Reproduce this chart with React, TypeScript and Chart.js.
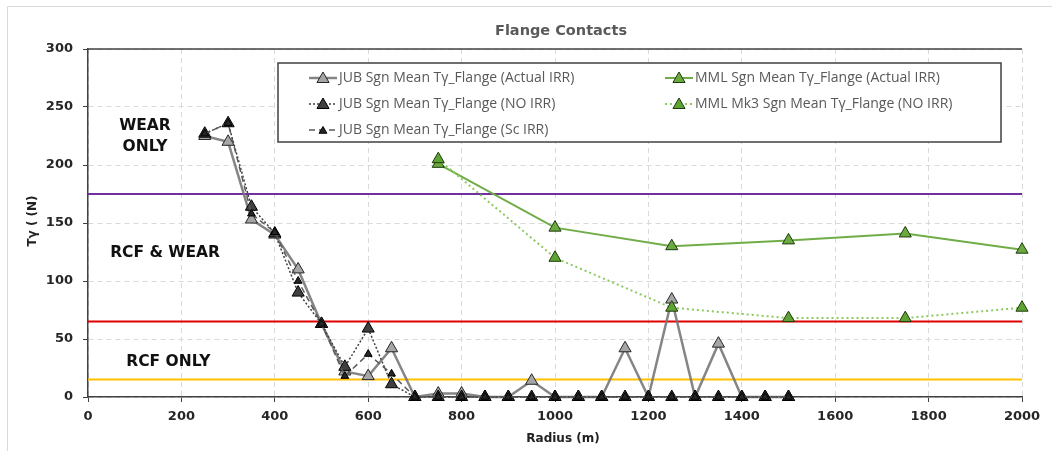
import React, { useEffect, useRef } from 'react';
import { Chart, registerables } from 'chart.js';

Chart.register(...registerables);

// ---------- data ----------
const jubRadius = [250, 300, 350, 400, 450, 500, 550, 600, 650, 700, 750, 800, 850, 900, 950, 1000, 1050, 1100, 1150, 1200, 1250, 1300, 1350, 1400, 1450, 1500];
const jubActualIrr = [225, 220, 153, 140, 110, 63, 22, 18, 42, 0, 3, 3, 0, 0, 14, 0, 0, 0, 42, 0, 84, 0, 46, 0, 0, 0];
const jubNoIrr = [227, 236, 164, 141, 90, 63, 26, 59, 11, 0, 0, 0, 0, 0, 0, 0, 0, 0, 0, 0, 0, 0, 0, 0, 0, 0];
const jubScIrr = [227, 236, 158, 142, 100, 63, 18, 37, 20, 0, 0, 0, 0, 0, 0, 0, 0, 0, 0, 0, 0, 0, 0, 0, 0, 0];

const mmlRadius = [750, 1000, 1250, 1500, 1750, 2000];
const mmlActualIrr = [201, 146, 130, 135, 141, 127];
const mmlMk3NoIrr = [205, 120, 77, 68, 68, 77];

const thresholdValues = [175, 65, 15];
const thresholdColors = ['#7030A0', '#E00000', '#FFC000'];

const seriesLabels = [
  'JUB Sgn Mean Tγ_Flange (Actual IRR)',
  'JUB Sgn Mean Tγ_Flange (NO IRR)',
  'JUB Sgn Mean Tγ_Flange (Sc IRR)',
  'MML Sgn Mean Tγ_Flange (Actual IRR)',
  'MML Mk3 Sgn Mean Tγ_Flange (NO IRR)',
];

const titleText = 'Flange Contacts';
const xTitle = 'Radius (m)';
const yTitle = 'Tγ ( (N)';
const xMin = 0, xMax = 2000, xStep = 200;
const yMin = 0, yMax = 300, yStep = 50;

const toPts = (xs: number[], ys: number[]) => xs.map((x, i) => ({ x, y: ys[i] }));

const TICK_FONT = '"DejaVu Sans", sans-serif';

function drawTri(ctx: CanvasRenderingContext2D, x: number, y: number, r: number, fill: string, stroke: string, lw: number) {
  const s = Math.sin(Math.PI / 3);
  ctx.beginPath();
  ctx.moveTo(x, y - r);
  ctx.lineTo(x + r * s, y + r / 2);
  ctx.lineTo(x - r * s, y + r / 2);
  ctx.closePath();
  ctx.fillStyle = fill;
  ctx.fill();
  ctx.lineWidth = lw;
  ctx.strokeStyle = stroke;
  ctx.stroke();
}

const decorPlugin = {
  id: 'decor',
  beforeDraw(chart: any) {
    const { ctx, width, height } = chart;
    ctx.save();
    ctx.fillStyle = '#ffffff';
    ctx.fillRect(0, 0, width, height);
    ctx.strokeStyle = '#D9D9D9';
    ctx.lineWidth = 1;
    ctx.beginPath();
    ctx.moveTo(7.5, height);
    ctx.lineTo(7.5, 6.5);
    ctx.lineTo(width, 6.5);
    ctx.stroke();
    ctx.restore();
  },
  afterDraw(chart: any) {
    const { ctx, chartArea: a } = chart;
    const xs = chart.scales.x;
    const ys = chart.scales.y;
    ctx.save();
    // top border of plot
    ctx.strokeStyle = '#404040';
    ctx.lineWidth = 1.5;
    ctx.beginPath();
    ctx.moveTo(a.left, a.top);
    ctx.lineTo(a.right, a.top);
    ctx.stroke();

    // title
    ctx.fillStyle = '#595959';
    ctx.font = 'bold 14.5px "DejaVu Sans", sans-serif';
    ctx.textAlign = 'center';
    ctx.textBaseline = 'middle';
    ctx.fillText(titleText, 561, 31);

    // axis titles
    ctx.fillStyle = '#222';
    ctx.font = 'bold 12px "DejaVu Sans", sans-serif';
    ctx.fillText(xTitle, 563, 439);
    ctx.save();
    ctx.translate(33, 221);
    ctx.rotate(-Math.PI / 2);
    ctx.font = 'bold 12px "DejaVu Sans", sans-serif';
    ctx.fillText(yTitle, 0, 0);
    ctx.restore();

    // zone labels
    ctx.fillStyle = '#111';
    ctx.font = 'bold 15.5px "DejaVu Sans", sans-serif';
    ctx.fillText('WEAR', xs.getPixelForValue(122), ys.getPixelForValue(234));
    ctx.fillText('ONLY', xs.getPixelForValue(122), ys.getPixelForValue(215.5));
    ctx.fillText('RCF & WEAR', xs.getPixelForValue(165), ys.getPixelForValue(124));
    ctx.fillText('RCF ONLY', xs.getPixelForValue(172), ys.getPixelForValue(30));

    // legend
    const bx = 278, by = 63, bw = 723, bh = 79;
    ctx.fillStyle = '#ffffff';
    ctx.fillRect(bx, by, bw, bh);
    ctx.strokeStyle = '#404040';
    ctx.lineWidth = 1.5;
    ctx.strokeRect(bx, by, bw, bh);

    const entries = [
      { ds: 3, x: 309, y: 78 },
      { ds: 4, x: 309, y: 104 },
      { ds: 5, x: 309, y: 130 },
      { ds: 6, x: 665, y: 78 },
      { ds: 7, x: 665, y: 104 },
    ];
    entries.forEach((e, i) => {
      const d: any = chart.data.datasets[e.ds];
      ctx.save();
      ctx.strokeStyle = d.borderColor;
      ctx.lineWidth = d.borderWidth;
      ctx.setLineDash(d.borderDash || []);
      ctx.beginPath();
      ctx.moveTo(e.x, e.y);
      ctx.lineTo(e.x + 28, e.y);
      ctx.stroke();
      ctx.setLineDash([]);
      drawTri(ctx, e.x + 14, e.y + 1, d.pointRadius, d.pointBackgroundColor, d.pointBorderColor, 1);
      ctx.restore();
      ctx.fillStyle = '#595959';
      ctx.font = '14px "Open Sans", sans-serif';
      ctx.textAlign = 'left';
      ctx.textBaseline = 'middle';
      ctx.fillText(seriesLabels[i], e.x + 30, e.y);
    });
    ctx.restore();
  },
};

export default function App() {
  const ref = useRef<HTMLCanvasElement | null>(null);
  useEffect(() => {
    if (!ref.current) return;
    const thresholdSets = thresholdValues.map((v, i) => ({
      label: 'threshold' + i,
      data: [{ x: xMin, y: v }, { x: xMax, y: v }],
      showLine: true,
      borderColor: thresholdColors[i],
      backgroundColor: thresholdColors[i],
      borderWidth: 2,
      pointRadius: 0,
      order: 20,
    }));
    const chart = new Chart(ref.current, {
      type: 'scatter',
      data: {
        datasets: [
          ...thresholdSets,
          {
            label: seriesLabels[0],
            data: toPts(jubRadius, jubActualIrr),
            showLine: true,
            borderColor: 'rgba(120,120,120,0.9)',
            borderWidth: 2.5,
            pointStyle: 'triangle',
            pointRadius: 7,
            pointBackgroundColor: '#A6A6A6',
            pointBorderColor: '#262626',
            pointBorderWidth: 1,
            clip: false,
            order: 5,
          },
          {
            label: seriesLabels[1],
            data: toPts(jubRadius, jubNoIrr),
            showLine: true,
            borderColor: '#404040',
            borderWidth: 1.5,
            borderDash: [2, 2],
            pointStyle: 'triangle',
            pointRadius: 7,
            pointBackgroundColor: '#404040',
            pointBorderColor: '#000000',
            pointBorderWidth: 1,
            clip: false,
            order: 4,
          },
          {
            label: seriesLabels[2],
            data: toPts(jubRadius, jubScIrr),
            showLine: true,
            borderColor: '#595959',
            borderWidth: 1.5,
            borderDash: [6, 4],
            pointStyle: 'triangle',
            pointRadius: 4.5,
            pointBackgroundColor: '#262626',
            pointBorderColor: '#000000',
            pointBorderWidth: 1,
            clip: false,
            order: 3,
          },
          {
            label: seriesLabels[3],
            data: toPts(mmlRadius, mmlActualIrr),
            showLine: true,
            borderColor: '#70AD47',
            borderWidth: 2,
            pointStyle: 'triangle',
            pointRadius: 7,
            pointBackgroundColor: '#6AAA3F',
            pointBorderColor: '#1E3B0F',
            pointBorderWidth: 1,
            clip: false,
            order: 2,
          },
          {
            label: seriesLabels[4],
            data: toPts(mmlRadius, mmlMk3NoIrr),
            showLine: true,
            borderColor: '#8CC95E',
            borderWidth: 2,
            borderDash: [2, 3],
            pointStyle: 'triangle',
            pointRadius: 7,
            pointBackgroundColor: '#5FA332',
            pointBorderColor: '#1E3B0F',
            pointBorderWidth: 1,
            clip: false,
            order: 1,
          },
        ],
      },
      options: {
        responsive: false,
        animation: false,
        events: [],
        layout: { padding: { top: 49, right: 30, left: 0, bottom: 0 } },
        plugins: { legend: { display: false }, title: { display: false }, tooltip: { enabled: false } },
        scales: {
          x: {
            type: 'linear',
            min: xMin,
            max: xMax,
            afterFit: (s: any) => { s.height = 54; },
            ticks: { stepSize: xStep, color: '#262626', padding: 7, callback: (v: any) => String(v), font: { family: TICK_FONT, size: 13, weight: 'bold' } },
            grid: { color: '#D9D9D9', lineWidth: 1, tickLength: 5, tickColor: '#404040', drawTicks: true },
            border: { display: true, color: '#404040', width: 1.5, dash: [5, 4] },
          },
          y: {
            type: 'linear',
            min: yMin,
            max: yMax,
            afterFit: (s: any) => { s.width = 88; },
            ticks: { stepSize: yStep, color: '#262626', padding: 10, callback: (v: any) => String(v), font: { family: TICK_FONT, size: 13, weight: 'bold' } },
            grid: { color: '#D9D9D9', lineWidth: 1, tickLength: 5, tickColor: '#404040', drawTicks: true },
            border: { display: true, color: '#404040', width: 1.5, dash: [5, 4] },
          },
        },
      } as any,
      plugins: [decorPlugin],
    });
    return () => chart.destroy();
  }, []);
  return (
    <div style={{ position: 'absolute', left: 0, top: 0, width: 1052, height: 451, background: '#fff' }}>
      <canvas ref={ref} width={1052} height={451} style={{ display: 'block', width: 1052, height: 451 }} />
    </div>
  );
}
